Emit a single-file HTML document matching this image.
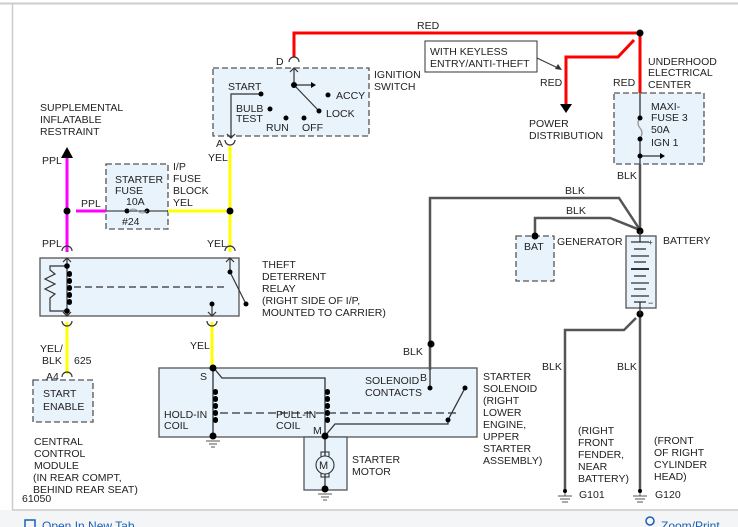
<!DOCTYPE html>
<html><head><meta charset="utf-8"><style>
html,body{margin:0;padding:0;background:#fff;}
svg{display:block;}
text{font-family:"Liberation Sans",Arial,sans-serif;font-size:10.5px;fill:#222;}
</style></head><body>
<svg width="738" height="527" viewBox="0 0 738 527" xmlns="http://www.w3.org/2000/svg">
<rect x="0" y="0" width="738" height="527" fill="#fff"/>
<rect x="0" y="510" width="738" height="17" fill="#f4f5f7"/>
<line x1="0" y1="3.5" x2="738" y2="3.5" stroke="#ccc" stroke-width="2"/>
<line x1="12.5" y1="3" x2="12.5" y2="510" stroke="#ccc" stroke-width="1.5"/>
<line x1="12" y1="510" x2="738" y2="510" stroke="#ccc" stroke-width="1.5"/>
<rect x="25" y="520" width="10" height="9" fill="none" stroke="#1a5fb4" stroke-width="1.5"/>
<text x="42" y="530" style="fill:#1a5fb4;font-size:12px">Open In New Tab</text>
<circle cx="650" cy="521" r="4" fill="none" stroke="#1a5fb4" stroke-width="1.5"/>
<text x="661" y="530" style="fill:#1a5fb4;font-size:12px">Zoom/Print</text>

<!-- boxes -->
<g fill="#e8f3fc" stroke="#555" stroke-width="1.3">
<rect x="213" y="68" width="156" height="68" stroke-dasharray="6,3"/>
<rect x="106" y="164" width="62" height="65" stroke-dasharray="6,3"/>
<rect x="614" y="93" width="90" height="71" stroke-dasharray="6,3"/>
<rect x="516" y="236" width="38" height="45" stroke-dasharray="6,3"/>
<rect x="33" y="380" width="60" height="42" stroke-dasharray="6,3"/>
<rect x="40" y="258" width="199" height="58"/>
<rect x="159" y="368" width="318" height="69"/>
<rect x="304" y="437" width="43" height="53"/>
<rect x="626" y="236" width="30" height="72"/>
</g>
<rect x="425" y="41" width="112" height="31" fill="#fff" stroke="#333" stroke-width="1"/>

<!-- red wires -->
<g stroke="#f00" stroke-width="3" fill="none">
<polyline points="294,57 294,33 640,33 640,93"/>
<polyline points="634,40 618,57 566,57 566,104"/>
</g>
<polygon points="560,104 572,104 566,113" fill="#000"/>
<circle cx="640" cy="33" r="3.5" fill="#000"/>
<line x1="537" y1="58" x2="560" y2="69" stroke="#333"/>
<polygon points="562,70 555,69 558,64" fill="#333"/>

<!-- magenta & yellow -->
<g stroke-width="3" fill="none">
<line x1="67" y1="157" x2="67" y2="252" stroke="#f0f"/>
<line x1="76" y1="211" x2="106" y2="211" stroke="#f0f"/>
<line x1="168" y1="211" x2="226" y2="211" stroke="#ff0"/>
<line x1="230" y1="146" x2="230" y2="252" stroke="#ff0"/>
<line x1="67" y1="322" x2="67" y2="374" stroke="#ff0"/>
<line x1="212" y1="322" x2="212" y2="367" stroke="#ff0"/>
</g>
<polygon points="61,158 73,158 67,147" fill="#000"/>
<circle cx="67" cy="211" r="3.5" fill="#000"/>
<circle cx="230" cy="211" r="3.5" fill="#000"/>
<!-- fuse -->
<line x1="106" y1="211" x2="168" y2="211" stroke="#222"/>
<circle cx="127" cy="211" r="2.5" fill="#000"/><circle cx="147" cy="211" r="2.5" fill="#000"/>
<path d="M129,211 q4,-4 9,0 q4,4 9,0" stroke="#999" fill="none"/>

<!-- gray wires -->
<g stroke="#555" stroke-width="2.5" fill="none">
<line x1="640" y1="164" x2="640" y2="231"/>
<polyline points="430,343 430,198 619,198 640,230"/>
<polyline points="535,236 535,218 610,218 640,230"/>
<line x1="640" y1="314" x2="640" y2="490"/>
<polyline points="636,318 624,330 565,330 565,490"/>
<line x1="430" y1="343" x2="430" y2="370"/>
</g>
<circle cx="640" cy="231" r="3.5" fill="#000"/>
<circle cx="640" cy="314" r="3.5" fill="#000"/>
<circle cx="535" cy="236" r="3.5" fill="#000"/>
<circle cx="431" cy="344" r="3.5" fill="#000"/>

<!-- maxi fuse internals -->
<g stroke="#333" stroke-width="1.3" fill="none">
<line x1="640" y1="93" x2="640" y2="118"/>
<path d="M640,118 q-4,5 0,10 q4,5 0,10" stroke="#999"/>
<line x1="640" y1="139" x2="640" y2="164"/>
<line x1="640" y1="156" x2="660" y2="156"/>
</g>
<circle cx="640" cy="118" r="2.5" fill="#000"/><circle cx="640" cy="139" r="2.5" fill="#000"/><circle cx="640" cy="156" r="2.5" fill="#000"/>
<polygon points="660,153 665,156 660,159" fill="#000"/>

<!-- battery -->
<g stroke="#333" stroke-width="1.3">
<line x1="640" y1="231" x2="640" y2="242"/>
<line x1="631" y1="242" x2="649" y2="242"/><line x1="634" y1="249" x2="646" y2="249"/>
<line x1="631" y1="256" x2="649" y2="256"/><line x1="634" y1="262" x2="646" y2="262"/>
<line x1="631" y1="269" x2="649" y2="269" stroke-width="2"/><line x1="634" y1="276" x2="646" y2="276"/>
<line x1="631" y1="283" x2="649" y2="283"/><line x1="634" y1="289" x2="646" y2="289"/>
<line x1="631" y1="296" x2="649" y2="296"/><line x1="634" y1="302" x2="646" y2="302"/>
<line x1="640" y1="302" x2="640" y2="314"/>
</g>
<text x="648" y="245" style="font-size:8px">+</text><text x="648" y="306" style="font-size:9px">−</text>

<!-- ignition switch -->
<g stroke="#333" stroke-width="1.2" fill="none">
<path d="M289,62 a5,5 0 0 1 10,0"/>
<line x1="294" y1="68" x2="294" y2="85"/><polyline points="290,72 294,68 298,72"/>
<line x1="294" y1="85" x2="311" y2="85"/>
<line x1="294" y1="85" x2="319" y2="111"/>
<polyline points="261,94 231,94 231,138"/><polyline points="227,134 231,138 235,134"/>
<path d="M225,140 a5,5 0 0 0 10,0"/>
</g>
<polygon points="311,82 316,85 311,88" fill="#000"/>
<g fill="#000"><circle cx="294" cy="85" r="3"/><circle cx="261" cy="94" r="2.5"/><circle cx="328" cy="95" r="2.5"/><circle cx="270" cy="109" r="2.5"/><circle cx="319" cy="111" r="2.5"/><circle cx="286" cy="118" r="2.5"/><circle cx="304" cy="118" r="2.5"/></g>

<!-- relay -->
<g stroke="#333" stroke-width="1.2" fill="none">
<path d="M62,251 a5,5 0 0 1 10,0"/><path d="M225,251 a5,5 0 0 1 10,0"/>
<path d="M62,321 a5,5 0 0 0 10,0"/><path d="M207,321 a5,5 0 0 0 10,0"/>
<line x1="67" y1="258" x2="67" y2="316"/><polyline points="63,262 67,258 71,262"/><polyline points="63,312 67,316 71,312"/>
<polyline points="67,266 50,266 50,270 55,274 45,279 55,284 45,289 55,294 50,298 50,311 67,311"/>
<line x1="74" y1="287" x2="225" y2="287" stroke-dasharray="7,4"/>
<line x1="230" y1="258" x2="230" y2="272"/><polyline points="226,262 230,258 234,262"/>
<line x1="230" y1="272" x2="246" y2="304"/>
<line x1="212" y1="304" x2="212" y2="316"/><polyline points="208,312 212,316 216,312"/>
<path d="M62,377 a5,5 0 0 1 10,0"/>
</g>
<g fill="#000"><circle cx="67" cy="266" r="2.8"/><circle cx="67" cy="311" r="2.8"/><circle cx="230" cy="272" r="2.5"/><circle cx="246" cy="304" r="2.5"/><circle cx="212" cy="304" r="2.5"/>
<rect x="67" y="271" width="5" height="6" rx="2.5"/><rect x="67" y="278" width="5" height="6" rx="2.5"/><rect x="67" y="285" width="5" height="6" rx="2.5"/><rect x="67" y="292" width="5" height="6" rx="2.5"/><rect x="67" y="299" width="5" height="6" rx="2.5"/></g>

<!-- starter solenoid -->
<g stroke="#333" stroke-width="1.3" fill="none">
<line x1="213" y1="367" x2="213" y2="437"/>
<polyline points="213,367 222,378 325,378 325,437"/>
<line x1="430" y1="370" x2="430" y2="388"/>
<line x1="220" y1="413" x2="460" y2="413" stroke-dasharray="8,4"/>
<polyline points="325,436 335,424 448,424 448,420 465,388"/>
<line x1="325" y1="437" x2="325" y2="490"/>
</g>
<g fill="#000">
<circle cx="213" cy="368" r="3.5"/><circle cx="213" cy="436" r="3.5"/><circle cx="325" cy="436" r="3.5"/><circle cx="325" cy="489" r="3.5"/>
<circle cx="430" cy="388" r="2.5"/><circle cx="465" cy="388" r="2.5"/><circle cx="448" cy="420" r="2.5"/>
<rect x="213" y="389" width="5" height="6" rx="2.5"/><rect x="213" y="396" width="5" height="6" rx="2.5"/><rect x="213" y="403" width="5" height="6" rx="2.5"/><rect x="213" y="410" width="5" height="6" rx="2.5"/><rect x="213" y="417" width="5" height="6" rx="2.5"/>
<rect x="325" y="389" width="5" height="6" rx="2.5"/><rect x="325" y="396" width="5" height="6" rx="2.5"/><rect x="325" y="403" width="5" height="6" rx="2.5"/><rect x="325" y="410" width="5" height="6" rx="2.5"/><rect x="325" y="417" width="5" height="6" rx="2.5"/>
</g>
<g stroke="#333" stroke-width="1.1" fill="none">
<rect x="321" y="452" width="8" height="5"/><rect x="321" y="472" width="8" height="5"/>
<circle cx="325" cy="465" r="9" fill="#e8f3fc"/>
</g>
<text x="319" y="469" style="font-size:11px">M</text>

<!-- grounds -->
<g stroke="#555" stroke-width="1">
<line x1="206" y1="441" x2="220" y2="441"/><line x1="209" y1="444" x2="217" y2="444"/><line x1="211" y1="447" x2="215" y2="447"/>
<line x1="318" y1="494" x2="332" y2="494"/><line x1="321" y1="497" x2="329" y2="497"/><line x1="323" y1="500" x2="327" y2="500"/>
<line x1="565" y1="490" x2="565" y2="496"/><line x1="558" y1="496" x2="572" y2="496"/><line x1="560" y1="499" x2="570" y2="499"/><line x1="562" y1="502" x2="568" y2="502"/>
<line x1="640" y1="490" x2="640" y2="496"/><line x1="633" y1="496" x2="647" y2="496"/><line x1="635" y1="499" x2="645" y2="499"/><line x1="637" y1="502" x2="643" y2="502"/>
</g>
<circle cx="565" cy="491" r="2" fill="#000"/><circle cx="640" cy="491" r="2" fill="#000"/>

<!-- labels -->
<text x="417" y="29">RED</text>
<text x="430" y="55">WITH KEYLESS</text><text x="430" y="67">ENTRY/ANTI-THEFT</text>
<text x="540" y="86">RED</text><text x="613" y="86">RED</text>
<text x="648" y="65">UNDERHOOD</text><text x="648" y="76">ELECTRICAL</text><text x="648" y="88">CENTER</text>
<text x="651" y="110">MAXI-</text><text x="651" y="121">FUSE 3</text><text x="651" y="133">50A</text><text x="651" y="146">IGN 1</text>
<text x="529" y="127">POWER</text><text x="529" y="139">DISTRIBUTION</text>
<text x="617" y="179">BLK</text><text x="565" y="194">BLK</text><text x="566" y="214">BLK</text>
<text x="524" y="250">BAT</text><text x="557" y="245">GENERATOR</text><text x="663" y="244">BATTERY</text>
<text x="276" y="65">D</text>
<text x="374" y="78">IGNITION</text><text x="374" y="90">SWITCH</text>
<text x="228" y="90">START</text><text x="336" y="99">ACCY</text>
<text x="236" y="112">BULB</text><text x="236" y="122">TEST</text><text x="326" y="117">LOCK</text>
<text x="266" y="131">RUN</text><text x="302" y="131">OFF</text>
<text x="216" y="147">A</text><text x="208" y="161">YEL</text>
<text x="40" y="111">SUPPLEMENTAL</text><text x="40" y="123">INFLATABLE</text><text x="40" y="135">RESTRAINT</text>
<text x="42" y="164">PPL</text><text x="81" y="207">PPL</text><text x="42" y="247">PPL</text>
<text x="115" y="183">STARTER</text><text x="115" y="194">FUSE</text><text x="126" y="205">10A</text><text x="122" y="225">#24</text>
<text x="173" y="170">I/P</text><text x="173" y="182">FUSE</text><text x="173" y="194">BLOCK</text><text x="173" y="206">YEL</text>
<text x="207" y="247">YEL</text>
<text x="262" y="268">THEFT</text><text x="262" y="280">DETERRENT</text><text x="262" y="292">RELAY</text><text x="262" y="304">(RIGHT SIDE OF I/P,</text><text x="262" y="316">MOUNTED TO CARRIER)</text>
<text x="40" y="352">YEL/</text><text x="42" y="364">BLK</text><text x="74" y="364">625</text>
<text x="190" y="349">YEL</text>
<text x="46" y="380">A4</text>
<text x="43" y="397">START</text><text x="43" y="410">ENABLE</text>
<text x="34" y="445">CENTRAL</text><text x="34" y="457">CONTROL</text><text x="34" y="469">MODULE</text><text x="33" y="481">(IN REAR COMPT,</text><text x="33" y="493">BEHIND REAR SEAT)</text>
<text x="22" y="502">61050</text>
<text x="403" y="355">BLK</text>
<text x="200" y="380">S</text><text x="420" y="381">B</text>
<text x="365" y="384">SOLENOID</text><text x="365" y="396">CONTACTS</text>
<text x="164" y="418">HOLD-IN</text><text x="164" y="429">COIL</text>
<text x="276" y="418">PULL-IN</text><text x="276" y="429">COIL</text><text x="313" y="434">M</text>
<text x="352" y="463">STARTER</text><text x="352" y="475">MOTOR</text>
<text x="483" y="380">STARTER</text><text x="483" y="392">SOLENOID</text><text x="483" y="404">(RIGHT</text><text x="483" y="416">LOWER</text><text x="483" y="428">ENGINE,</text><text x="483" y="440">UPPER</text><text x="483" y="452">STARTER</text><text x="483" y="464">ASSEMBLY)</text>
<text x="542" y="370">BLK</text><text x="617" y="370">BLK</text>
<text x="578" y="434">(RIGHT</text><text x="578" y="446">FRONT</text><text x="578" y="458">FENDER,</text><text x="578" y="470">NEAR</text><text x="578" y="482">BATTERY)</text>
<text x="654" y="444">(FRONT</text><text x="654" y="456">OF RIGHT</text><text x="654" y="468">CYLINDER</text><text x="654" y="480">HEAD)</text>
<text x="579" y="498">G101</text><text x="655" y="498">G120</text>
</svg>
</body></html>
